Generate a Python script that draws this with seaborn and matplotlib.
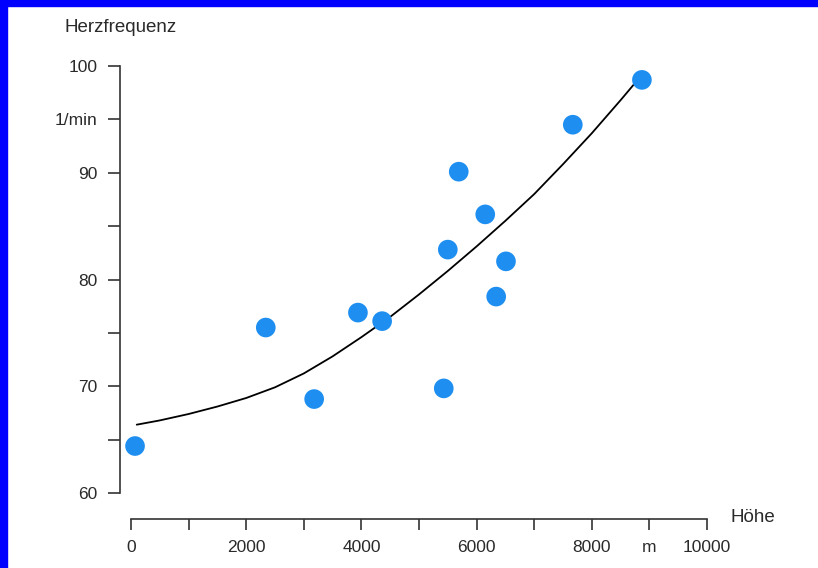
import matplotlib
matplotlib.use('Agg')
import matplotlib.pyplot as plt
from matplotlib.patches import Rectangle
import seaborn as sns
import pandas as pd

# measured points: altitude (m) vs heart rate (1/min)
hoehe = [70, 2340, 3180, 3940, 4360, 5430, 5500, 5690, 6150, 6340, 6510, 7670, 8870]
herzfrequenz = [64.4, 75.5, 68.8, 76.9, 76.1, 69.8, 82.8, 90.1, 86.1, 78.4, 81.7, 94.5, 98.7]

# trend curve
kurve_x = [100, 500, 1000, 1500, 2000, 2500, 3000, 3500, 4000, 4500,
           5000, 5500, 6000, 6500, 7000, 7500, 8000, 8500, 8750]
kurve_y = [66.4, 66.8, 67.4, 68.1, 68.9, 69.9, 71.2, 72.8, 74.6, 76.5,
           78.6, 80.8, 83.1, 85.5, 88.0, 90.8, 93.7, 96.8, 98.4]

y_ticks = [60, 65, 70, 75, 80, 85, 90, 95, 100]
y_labels = ['60', '', '70', '', '80', '', '90', '1/min', '100']
x_ticks = [0, 1000, 2000, 3000, 4000, 5000, 6000, 7000, 8000, 9000, 10000]
x_labels = ['0', '', '2000', '', '4000', '', '6000', '', '8000', 'm', '10000']

points = pd.DataFrame({'hoehe': hoehe, 'hf': herzfrequenz})
curve = pd.DataFrame({'hoehe': kurve_x, 'hf': kurve_y})

sns.set_style('ticks')
plt.rcParams['font.family'] = ['Liberation Sans', 'DejaVu Sans']
text_col = '#2a2a2a'

fig = plt.figure(figsize=(8.18, 5.68), dpi=100)
ax = fig.add_axes([131 / 818, 75 / 568, 576 / 818, 427 / 568])

sns.lineplot(data=curve, x='hoehe', y='hf', ax=ax, color='black', linewidth=1.3)
sns.scatterplot(data=points, x='hoehe', y='hf', ax=ax, color='#1e8ff0', s=200,
                edgecolor='none', zorder=3)

ax.set_xlim(0, 10000)
ax.set_ylim(60, 100)
ax.set_xticks(x_ticks)
ax.set_xticklabels(x_labels)
ax.set_yticks(y_ticks)
ax.set_yticklabels(y_labels)
ax.set_xlabel('')
ax.set_ylabel('')

sns.despine(ax=ax)
ax.spines['left'].set_position(('outward', 8))
ax.spines['bottom'].set_position(('outward', 19))
for s in ['left', 'bottom']:
    ax.spines[s].set_color('#333333')
    ax.spines[s].set_linewidth(1.2)
ax.tick_params(axis='y', length=9, width=1.2, color='#333333', pad=7,
               labelsize=12.5, labelcolor=text_col)
ax.tick_params(axis='x', length=8, width=1.2, color='#333333', pad=7,
               labelsize=12.5, labelcolor=text_col)
for coll in ax.collections:
    coll.set_clip_on(False)

fig.text(65 / 818, 1 - 28 / 568, 'Herzfrequenz', fontsize=13.5, color=text_col,
         ha='left', va='center')
fig.text(731 / 818, 1 - 517 / 568, 'Höhe', fontsize=13.5, color=text_col,
         ha='left', va='center')

# blue frame on top and left edge
fig.patches.append(Rectangle((0, 0), 7 / 818, 1, transform=fig.transFigure,
                             color='#0000ff', zorder=10))
fig.patches.append(Rectangle((0, 1 - 6 / 568), 1, 6 / 568, transform=fig.transFigure,
                             color='#0000ff', zorder=10))

fig.savefig('out.png', dpi=100)
